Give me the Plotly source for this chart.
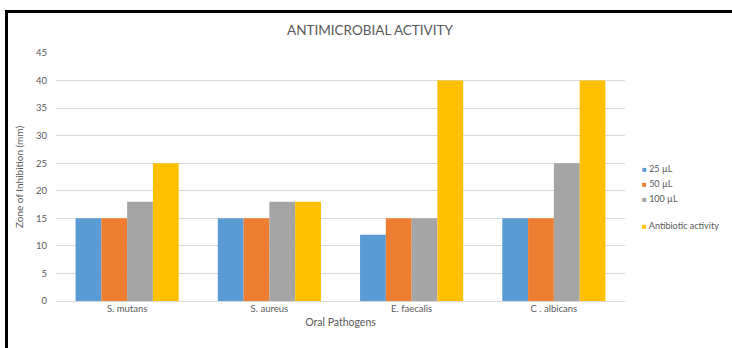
import plotly.graph_objects as go

# Zone of inhibition (mm) per oral pathogen and treatment
pathogens = ["S. mutans", "S. aureus", "E. faecalis", "C . albicans"]
series_names = ["25 µL", "50 µL", "100 µL", "Antibiotic activity"]
vals_25 = [15, 15, 12, 15]
vals_50 = [15, 15, 15, 15]
vals_100 = [18, 18, 15, 25]
vals_antibiotic = [25, 18, 40, 40]
y_ticks = [0, 5, 10, 15, 20, 25, 30, 35, 40, 45]

colors = ["#5B9BD5", "#ED7D31", "#A5A5A5", "#FFC000"]
series_values = [vals_25, vals_50, vals_100, vals_antibiotic]

W, H = 732, 348
ML, MR, MT, MB = 56, 107, 53, 47
pw, ph = W - ML - MR, H - MT - MB

fig = go.Figure()
for name, vals, col in zip(series_names, series_values, colors):
    fig.add_trace(go.Bar(
        x=pathogens, y=vals, name=name, showlegend=False,
        marker=dict(color=col, line=dict(width=0)),
    ))

txt = "#595959"
font_family = "Lato, 'Open Sans', sans-serif"

def px_to_paper_x(px):
    return (px - ML) / pw

def px_to_paper_y(py):
    return (H - MB - py) / ph

fig.update_layout(
    width=W, height=H,
    margin=dict(l=ML, r=MR, t=MT, b=MB, autoexpand=False),
    paper_bgcolor="white", plot_bgcolor="white",
    barmode="group", bargap=0.275, bargroupgap=0,
    font=dict(family=font_family, color=txt, size=9),
    title=dict(text="ANTIMICROBIAL ACTIVITY", x=px_to_paper_x(370), xref="paper",
               xanchor="center", y=1 - 30 / H, yanchor="middle",
               font=dict(size=13.5, color=txt, family=font_family)),
    xaxis=dict(showgrid=False, showline=False, ticks="", automargin=False,
               tickfont=dict(size=9.5, color=txt),
               title=dict(text="Oral Pathogens", font=dict(size=10.5, color=txt), standoff=6)),
    yaxis=dict(range=[0, 45], tickvals=y_ticks, showgrid=True, gridcolor="#D9D9D9",
               gridwidth=1, zeroline=True, zerolinecolor="#D9D9D9", zerolinewidth=1,
               showline=False, ticks="", ticklabelstandoff=8, automargin=False,
               tickfont=dict(size=9.5, color=txt),
               title=dict(text="Zone of Inhibition (mm)", font=dict(size=10, color=txt), standoff=10)),
    showlegend=False,
)

# Legend: small coloured square followed by the series name
legend_rows_px = [168, 183, 198, 226]
for name, col, ry in zip(series_names, colors, legend_rows_px):
    fig.add_annotation(
        xref="paper", yref="paper", x=px_to_paper_x(640), y=px_to_paper_y(ry),
        xanchor="left", yanchor="middle", showarrow=False,
        text=f"<span style='color:{col};font-size:8px'>■</span> {name}",
        font=dict(size=9, color=txt, family=font_family),
    )

# Outer frame lines (top and left edges)
fig.add_shape(type="line", xref="paper", yref="paper",
              x0=px_to_paper_x(5), x1=px_to_paper_x(W + 5),
              y0=px_to_paper_y(11.5), y1=px_to_paper_y(11.5),
              line=dict(color="black", width=3))
fig.add_shape(type="line", xref="paper", yref="paper",
              x0=px_to_paper_x(6.5), x1=px_to_paper_x(6.5),
              y0=px_to_paper_y(10), y1=px_to_paper_y(H + 5),
              line=dict(color="black", width=3))

fig.write_html("out.html")
